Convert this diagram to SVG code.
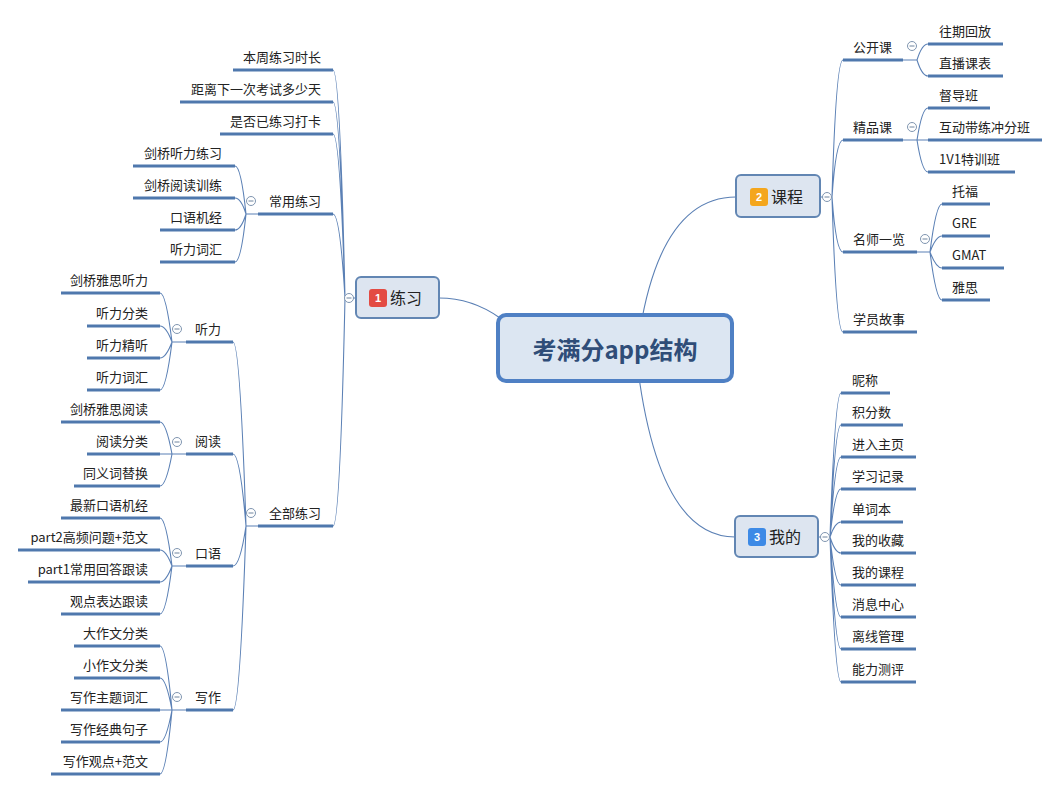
<svg xmlns="http://www.w3.org/2000/svg" xmlns:xlink="http://www.w3.org/1999/xlink" width="1060" height="791" viewBox="0 0 1060 791">
<style>
.c{fill:none;stroke:#5b80b5;stroke-width:1.1}
.u{stroke:#4f78ad;stroke-width:3}
.t{font-family:"Noto Sans CJK SC","Noto Sans",sans-serif;font-size:13px;fill:#222}
.e{text-anchor:end}
.n1{fill:#dde5f0;stroke:#6286b3;stroke-width:2}
.n1t{font-family:"Noto Sans CJK SC","Noto Sans",sans-serif;font-size:16px;fill:#222}
.b{font-family:"Liberation Sans","Noto Sans",sans-serif;font-size:11px;font-weight:bold;fill:#fff;text-anchor:middle}
</style>
<defs>
<g id="minus"><circle r="4.5" fill="#fff" stroke="#7f95b0" stroke-width="1"/><line x1="-2.5" y1="0" x2="2.5" y2="0" stroke="#6f849e" stroke-width="1"/></g>
</defs>
<rect width="1060" height="791" fill="#fff"/>
<g id="connectors">
<path class="c" d="M500,318 Q472,298 439,298"/>
<path class="c" d="M640,330 Q662,197 736,197"/>
<path class="c" d="M638,370 Q660,537 735,537"/>
<path class="c" d="M356,298 H345 M345,298 Q340,70 333,70 M345,298 Q340,102 333,102 M345,298 Q340,134 333,134 M345,298 Q340,214 333,214 M345,298 Q340,526 333,526"/>
<path class="c" d="M258,214 H246 M246,214 Q241,166 235,166 M246,214 Q241,198 235,198 M246,214 Q241,230 235,230 M246,214 Q241,262 235,262"/>
<path class="c" d="M258,526 H246 M246,526 Q240,342 233,342 M246,526 Q240,454 233,454 M246,526 Q240,566 233,566 M246,526 Q240,710 233,710"/>
<path class="c" d="M186,342 H172 M172,342 Q166,293 160,293 M172,342 Q166,326 160,326 M172,342 Q166,358 160,358 M172,342 Q166,390 160,390"/>
<path class="c" d="M186,454 H172 M172,454 Q166,422 160,422 M172,454 Q166,454 160,454 M172,454 Q166,486 160,486"/>
<path class="c" d="M186,566 H172 M172,566 Q166,518 160,518 M172,566 Q166,550 160,550 M172,566 Q166,582 160,582 M172,566 Q166,614 160,614"/>
<path class="c" d="M186,710 H172 M172,710 Q166,646 160,646 M172,710 Q166,678 160,678 M172,710 Q166,710 160,710 M172,710 Q166,742 160,742 M172,710 Q166,774 160,774"/>
<path class="c" d="M820,197 H832 M832,197 Q836,60 843,60 M832,197 Q836,140 843,140 M832,197 Q836,252 843,252 M832,197 Q836,332 843,332"/>
<path class="c" d="M903,60 H917 M917,60 Q922,44 928,44 M917,60 Q922,76 928,76"/>
<path class="c" d="M903,140 H917 M917,140 Q922,108 928,108 M917,140 Q922,140 928,140 M917,140 Q922,172 928,172"/>
<path class="c" d="M917,252 H930 M930,252 Q936,204 942,204 M930,252 Q936,236 942,236 M930,252 Q936,268 942,268 M930,252 Q936,300 942,300"/>
<path class="c" d="M818,537 H830 M830,537 Q835,393 841,393 M830,537 Q835,425 841,425 M830,537 Q835,457 841,457 M830,537 Q835,489 841,489 M830,537 Q835,522 841,522 M830,537 Q835,553 841,553 M830,537 Q835,585 841,585 M830,537 Q835,617 841,617 M830,537 Q835,649 841,649 M830,537 Q835,682 841,682"/>
</g>
<g id="center">
<rect x="498" y="315" width="234" height="66" rx="8" fill="#dce6f2" stroke="#4f80c4" stroke-width="4"/>
<text x="615" y="359" text-anchor="middle" font-family="Noto Sans CJK SC,Noto Sans,sans-serif" font-size="24" font-weight="bold" fill="#2f4d78">考满分app结构</text>
</g>
<g id="n-lianxi">
<rect class="n1" x="356" y="277" width="83" height="41" rx="5"/>
<rect x="369" y="289" width="18" height="18" rx="3" fill="#e34b43"/>
<text class="b" x="378" y="302">1</text>
<text class="n1t" x="390" y="304">练习</text>
<use href="#minus" x="349" y="298"/>
</g>
<g id="n-kecheng">
<rect class="n1" x="736" y="175" width="84" height="42" rx="5"/>
<rect x="750" y="188" width="18" height="18" rx="3" fill="#f4a61d"/>
<text class="b" x="759" y="201">2</text>
<text class="n1t" x="771" y="203">课程</text>
<use href="#minus" x="827" y="197"/>
</g>
<g id="n-wode">
<rect class="n1" x="735" y="516" width="83" height="41" rx="5"/>
<rect x="748" y="528" width="18" height="18" rx="3" fill="#3d8ae6"/>
<text class="b" x="757" y="541">3</text>
<text class="n1t" x="769" y="543">我的</text>
<use href="#minus" x="825" y="537"/>
</g>
<g id="n-benzhou"><line class="u" x1="233" y1="70" x2="333" y2="70"/><text class="t e" x="321" y="62">本周练习时长</text></g>
<g id="n-juli"><line class="u" x1="180" y1="102" x2="333" y2="102"/><text class="t e" x="321" y="94">距离下一次考试多少天</text></g>
<g id="n-daka"><line class="u" x1="220" y1="134" x2="333" y2="134"/><text class="t e" x="321" y="126">是否已练习打卡</text></g>
<g id="n-changyong"><line class="u" x1="258" y1="214" x2="333" y2="214"/><text class="t e" x="321" y="206">常用练习</text><use href="#minus" x="251" y="201"/></g>
<g id="n-jqtlxx"><line class="u" x1="133" y1="166" x2="235" y2="166"/><text class="t e" x="222" y="158">剑桥听力练习</text></g>
<g id="n-jqydxl"><line class="u" x1="133" y1="198" x2="235" y2="198"/><text class="t e" x="222" y="190">剑桥阅读训练</text></g>
<g id="n-kyjj"><line class="u" x1="160" y1="230" x2="235" y2="230"/><text class="t e" x="222" y="222">口语机经</text></g>
<g id="n-tlch1"><line class="u" x1="160" y1="262" x2="235" y2="262"/><text class="t e" x="222" y="254">听力词汇</text></g>
<g id="n-quanbu"><line class="u" x1="258" y1="526" x2="333" y2="526"/><text class="t e" x="321" y="518">全部练习</text><use href="#minus" x="251" y="513"/></g>
<g id="n-tingli"><line class="u" x1="186" y1="342" x2="233" y2="342"/><text class="t e" x="221" y="334">听力</text><use href="#minus" x="177" y="329"/></g>
<g id="n-yuedu"><line class="u" x1="186" y1="454" x2="233" y2="454"/><text class="t e" x="221" y="446">阅读</text><use href="#minus" x="177" y="442"/></g>
<g id="n-kouyu"><line class="u" x1="186" y1="566" x2="233" y2="566"/><text class="t e" x="221" y="558">口语</text><use href="#minus" x="177" y="553"/></g>
<g id="n-xiezuo"><line class="u" x1="186" y1="710" x2="233" y2="710"/><text class="t e" x="221" y="702">写作</text><use href="#minus" x="177" y="697"/></g>
<g id="n-l1"><line class="u" x1="61" y1="293" x2="160" y2="293"/><text class="t e" x="148" y="285">剑桥雅思听力</text></g>
<g id="n-l2"><line class="u" x1="87" y1="326" x2="160" y2="326"/><text class="t e" x="148" y="318">听力分类</text></g>
<g id="n-l3"><line class="u" x1="87" y1="358" x2="160" y2="358"/><text class="t e" x="148" y="350">听力精听</text></g>
<g id="n-l4"><line class="u" x1="87" y1="390" x2="160" y2="390"/><text class="t e" x="148" y="382">听力词汇</text></g>
<g id="n-r1"><line class="u" x1="61" y1="422" x2="160" y2="422"/><text class="t e" x="148" y="414">剑桥雅思阅读</text></g>
<g id="n-r2"><line class="u" x1="87" y1="454" x2="160" y2="454"/><text class="t e" x="148" y="446">阅读分类</text></g>
<g id="n-r3"><line class="u" x1="74" y1="486" x2="160" y2="486"/><text class="t e" x="148" y="478">同义词替换</text></g>
<g id="n-s1"><line class="u" x1="61" y1="518" x2="160" y2="518"/><text class="t e" x="148" y="510">最新口语机经</text></g>
<g id="n-s2"><line class="u" x1="18" y1="550" x2="160" y2="550"/><text class="t e" x="148" y="542">part2高频问题+范文</text></g>
<g id="n-s3"><line class="u" x1="28" y1="582" x2="160" y2="582"/><text class="t e" x="148" y="574">part1常用回答跟读</text></g>
<g id="n-s4"><line class="u" x1="61" y1="614" x2="160" y2="614"/><text class="t e" x="148" y="606">观点表达跟读</text></g>
<g id="n-w1"><line class="u" x1="74" y1="646" x2="160" y2="646"/><text class="t e" x="148" y="638">大作文分类</text></g>
<g id="n-w2"><line class="u" x1="74" y1="678" x2="160" y2="678"/><text class="t e" x="148" y="670">小作文分类</text></g>
<g id="n-w3"><line class="u" x1="61" y1="710" x2="160" y2="710"/><text class="t e" x="148" y="702">写作主题词汇</text></g>
<g id="n-w4"><line class="u" x1="61" y1="742" x2="160" y2="742"/><text class="t e" x="148" y="734">写作经典句子</text></g>
<g id="n-w5"><line class="u" x1="51" y1="774" x2="160" y2="774"/><text class="t e" x="148" y="766">写作观点+范文</text></g>
<g id="n-gongkai"><line class="u" x1="843" y1="60" x2="903" y2="60"/><text class="t" x="853" y="52">公开课</text><use href="#minus" x="912" y="46"/></g>
<g id="n-jingpin"><line class="u" x1="843" y1="140" x2="903" y2="140"/><text class="t" x="853" y="132">精品课</text><use href="#minus" x="912" y="127"/></g>
<g id="n-mingshi"><line class="u" x1="843" y1="252" x2="917" y2="252"/><text class="t" x="853" y="244">名师一览</text><use href="#minus" x="925" y="239"/></g>
<g id="n-xueyuan"><line class="u" x1="843" y1="332" x2="917" y2="332"/><text class="t" x="853" y="324">学员故事</text></g>
<g id="n-wqhf"><line class="u" x1="928" y1="44" x2="1003" y2="44"/><text class="t" x="939" y="36">往期回放</text></g>
<g id="n-zbkb"><line class="u" x1="928" y1="76" x2="1003" y2="76"/><text class="t" x="939" y="68">直播课表</text></g>
<g id="n-ddb"><line class="u" x1="928" y1="108" x2="990" y2="108"/><text class="t" x="939" y="100">督导班</text></g>
<g id="n-hdb"><line class="u" x1="928" y1="140" x2="1042" y2="140"/><text class="t" x="939" y="132">互动带练冲分班</text></g>
<g id="n-1v1"><line class="u" x1="928" y1="172" x2="1015" y2="172"/><text class="t" x="939" y="164">1V1特训班</text></g>
<g id="n-tf"><line class="u" x1="942" y1="204" x2="990" y2="204"/><text class="t" x="952" y="196">托福</text></g>
<g id="n-gre"><line class="u" x1="942" y1="236" x2="990" y2="236"/><text class="t" x="952" y="228">GRE</text></g>
<g id="n-gmat"><line class="u" x1="942" y1="268" x2="1004" y2="268"/><text class="t" x="952" y="260">GMAT</text></g>
<g id="n-ys"><line class="u" x1="942" y1="300" x2="990" y2="300"/><text class="t" x="952" y="292">雅思</text></g>
<g id="n-nc"><line class="u" x1="841" y1="393" x2="890" y2="393"/><text class="t" x="852" y="385">昵称</text></g>
<g id="n-jfs"><line class="u" x1="841" y1="425" x2="903" y2="425"/><text class="t" x="852" y="417">积分数</text></g>
<g id="n-jrzy"><line class="u" x1="841" y1="457" x2="916" y2="457"/><text class="t" x="852" y="449">进入主页</text></g>
<g id="n-xxjl"><line class="u" x1="841" y1="489" x2="916" y2="489"/><text class="t" x="852" y="481">学习记录</text></g>
<g id="n-dcb"><line class="u" x1="841" y1="522" x2="903" y2="522"/><text class="t" x="852" y="514">单词本</text></g>
<g id="n-wdsc"><line class="u" x1="841" y1="553" x2="916" y2="553"/><text class="t" x="852" y="545">我的收藏</text></g>
<g id="n-wdkc"><line class="u" x1="841" y1="585" x2="916" y2="585"/><text class="t" x="852" y="577">我的课程</text></g>
<g id="n-xxzx"><line class="u" x1="841" y1="617" x2="916" y2="617"/><text class="t" x="852" y="609">消息中心</text></g>
<g id="n-lxgl"><line class="u" x1="841" y1="649" x2="916" y2="649"/><text class="t" x="852" y="641">离线管理</text></g>
<g id="n-nlcp"><line class="u" x1="841" y1="682" x2="916" y2="682"/><text class="t" x="852" y="674">能力测评</text></g>
</svg>
